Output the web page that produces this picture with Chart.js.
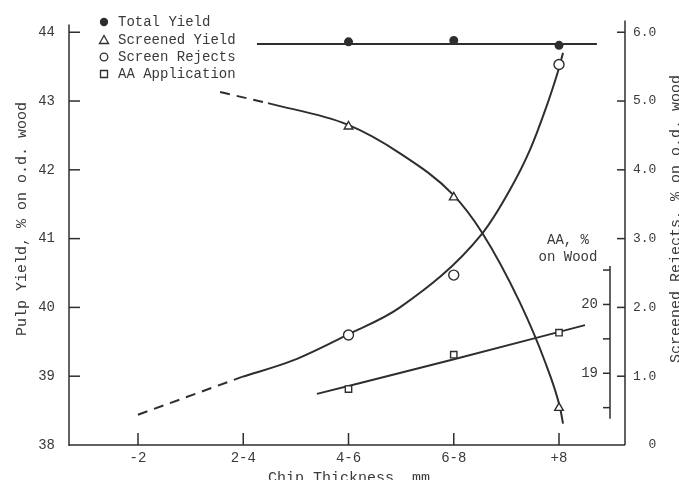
<!DOCTYPE html>
<html>
<head>
<meta charset="utf-8">
<script src="https://cdn.jsdelivr.net/npm/chart.js@4/dist/chart.umd.min.js"></script>
<style>
  html, body { margin: 0; padding: 0; background: #ffffff; }
  #wrap { width: 679px; height: 480px; position: relative; }
</style>
</head>
<body>
<div id="wrap"><canvas id="c"></canvas></div>
<script>
// ---------- data ----------
const categories = ['-2', '2-4', '4-6', '6-8', '+8'];   // chip thickness, mm (x positions 0..4)
const markerX = [2, 3, 4];                             // categories where symbols are plotted

const totalYield    = [43.86, 43.88, 43.81];   // Pulp yield, % (left axis)
const screenedYield = [42.63, 41.60, 38.54];   // Pulp yield, % (left axis)
const screenRejects = [1.60, 2.47, 5.53];      // Screened rejects, % (right axis)
const aaApplication = [18.77, 19.27, 19.59];   // AA, % on wood (inner axis)

// traced fitted lines (x in category units)
const totalLineX = [1.13, 4.36];
const totalLineY = [43.83, 43.83];

const screenedDashX = [0.78, 1.235];
const screenedDashY = [43.13, 42.97];
const screenedCurveX = [1.235, 1.986, 2.489, 2.993, 3.268, 3.629, 3.867, 4.010, 4.038];
const screenedCurveY = [42.97, 42.66, 42.24, 41.64, 41.09, 40.07, 39.21, 38.54, 38.31];

const rejectsDashX = [0, 0.988];
const rejectsDashY = [0.44, 0.99];
const rejectsCurveX = [0.988, 1.473, 1.986, 2.489, 3.268, 3.534, 3.724, 3.867, 3.990, 4.038];
const rejectsCurveY = [0.99, 1.23, 1.60, 2.00, 3.07, 3.71, 4.29, 4.86, 5.43, 5.70];

const aaCurveX = [1.70, 2.993, 4.247];
const aaCurveY = [18.70, 19.20, 19.70];

// axis ticks
const leftTicks = [38, 39, 40, 41, 42, 43, 44];
const rightTicks = [0, 1, 2, 3, 4, 5, 6];
const aaTicks = [18.5, 19, 19.5, 20, 20.5];
const aaLabels = [19, 20];
const aaRange = [18.34, 20.56];

// ---------- styling ----------
const INK = '#2e2e2e';
const TXT = '#3a3a3a';
const FONT = "'Liberation Mono', 'DejaVu Sans Mono', monospace";

const pts = (xs, ys) => xs.map((v, i) => ({x: v, y: ys[i]}));

const lineBase = {
  type: 'line', showLine: true, pointRadius: 0, borderColor: INK, borderWidth: 2,
  cubicInterpolationMode: 'monotone', fill: false
};
const markBase = {
  type: 'line', showLine: false, borderColor: INK, pointBorderColor: INK,
  pointBorderWidth: 1.4, pointBackgroundColor: '#ffffff'
};

const datasets = [
  Object.assign({}, markBase, {label: 'Total Yield', data: pts(markerX, totalYield), yAxisID: 'y',
    pointStyle: 'circle', pointRadius: 3.8, pointBackgroundColor: INK, legend: true}),
  Object.assign({}, markBase, {label: 'Screened Yield', data: pts(markerX, screenedYield), yAxisID: 'y',
    pointStyle: 'triangle', pointRadius: 5, legend: true}),
  Object.assign({}, markBase, {label: 'Screen Rejects', data: pts(markerX, screenRejects), yAxisID: 'y2',
    pointStyle: 'circle', pointRadius: 5, legend: true}),
  Object.assign({}, markBase, {label: 'AA Application', data: pts(markerX, aaApplication), yAxisID: 'yAA',
    pointStyle: 'rect', pointRadius: 4.5, legend: true}),
  Object.assign({}, lineBase, {label: 'Total Yield line', data: pts(totalLineX, totalLineY), yAxisID: 'y'}),
  Object.assign({}, lineBase, {label: 'Screened Yield dashed', data: pts(screenedDashX, screenedDashY), yAxisID: 'y', borderDash: [10, 7]}),
  Object.assign({}, lineBase, {label: 'Screened Yield curve', data: pts(screenedCurveX, screenedCurveY), yAxisID: 'y'}),
  Object.assign({}, lineBase, {label: 'Screen Rejects dashed', data: pts(rejectsDashX, rejectsDashY), yAxisID: 'y2', borderDash: [10, 7]}),
  Object.assign({}, lineBase, {label: 'Screen Rejects curve', data: pts(rejectsCurveX, rejectsCurveY), yAxisID: 'y2'}),
  Object.assign({}, lineBase, {label: 'AA Application line', data: pts(aaCurveX, aaCurveY), yAxisID: 'yAA'})
];

function seg(ctx, x1, y1, x2, y2) { ctx.beginPath(); ctx.moveTo(x1, y1); ctx.lineTo(x2, y2); ctx.stroke(); }

const decor = {
  id: 'decor',
  afterDraw(chart) {
    const {ctx, chartArea: ca, scales} = chart;
    const xs = scales.x, yl = scales.y, yr = scales.y2, ya = scales.yAA;
    ctx.save();
    ctx.strokeStyle = INK; ctx.lineWidth = 1.5; ctx.lineCap = 'butt';
    // left axis + inward ticks
    seg(ctx, ca.left, ca.top + 2, ca.left, ca.bottom + 1);
    leftTicks.slice(1).forEach(v => { const p = yl.getPixelForValue(v); seg(ctx, ca.left, p, ca.left + 11, p); });
    // right axis + inward ticks
    seg(ctx, ca.right, ca.top - 2, ca.right, ca.bottom);
    rightTicks.slice(1).forEach(v => { const p = yr.getPixelForValue(v); seg(ctx, ca.right - 8, p, ca.right, p); });
    // bottom axis + upward ticks
    seg(ctx, ca.left, ca.bottom, ca.right, ca.bottom);
    categories.forEach((c, i) => { const p = xs.getPixelForValue(i); seg(ctx, p, ca.bottom, p, ca.bottom - 12); });
    // inner AA axis
    const aaX = ca.right - 15;
    seg(ctx, aaX, ya.getPixelForValue(aaRange[1]), aaX, ya.getPixelForValue(aaRange[0]));
    aaTicks.forEach(v => { const p = ya.getPixelForValue(v); seg(ctx, aaX - 7, p, aaX, p); });
    ctx.fillStyle = TXT;
    ctx.font = '14px ' + FONT;
    ctx.textAlign = 'right'; ctx.textBaseline = 'middle';
    aaLabels.forEach(v => ctx.fillText(String(v), aaX - 12, ya.getPixelForValue(v)));
    ctx.textAlign = 'center';
    ctx.fillText('AA, %', aaX - 42, 240);
    ctx.fillText('on Wood', aaX - 42, 257);

    // axis titles
    ctx.font = '15px ' + FONT;
    ctx.save(); ctx.translate(22, 219); ctx.rotate(-Math.PI / 2);
    ctx.fillText('Pulp Yield, % on o.d. wood', 0, 0); ctx.restore();
    ctx.save(); ctx.translate(676, 219); ctx.rotate(-Math.PI / 2);
    ctx.fillText('Screened Rejects, % on o.d. wood', 0, 0); ctx.restore();
    ctx.fillText('Chip Thickness, mm', (ca.left + ca.right) / 2 + 2, 478);

    // legend
    ctx.font = '14px ' + FONT;
    ctx.textAlign = 'left';
    const rows = [22, 40, 57, 74];
    chart.data.datasets.filter(d => d.legend).forEach((d, i) => {
      const cy = rows[i], cx = 104;
      ctx.lineWidth = 1.3; ctx.strokeStyle = INK;
      ctx.fillStyle = d.pointBackgroundColor;
      ctx.beginPath();
      if (d.pointStyle === 'circle') {
        ctx.arc(cx, cy, d.pointBackgroundColor === INK ? 3.5 : 3.8, 0, Math.PI * 2);
      } else if (d.pointStyle === 'triangle') {
        ctx.moveTo(cx, cy - 4.5); ctx.lineTo(cx + 4.5, cy + 3.5); ctx.lineTo(cx - 4.5, cy + 3.5); ctx.closePath();
      } else {
        ctx.rect(cx - 3.5, cy - 3.5, 7, 7);
      }
      ctx.fill(); ctx.stroke();
      ctx.fillStyle = TXT;
      ctx.fillText(d.label, 118, cy);
    });
    ctx.restore();
  }
};

const tickFont = {family: FONT, size: 14};

new Chart(document.getElementById('c'), {
  data: {datasets},
  options: {
    responsive: true, maintainAspectRatio: false, animation: false,
    layout: {padding: {top: 15, left: 0, right: 0, bottom: 0}},
    plugins: {legend: {display: false}, tooltip: {enabled: false}, title: {display: false}},
    scales: {
      x: {
        type: 'linear', position: 'bottom', min: -0.6556, max: 4.627,
        afterFit: s => { s.height = 35; },
        afterBuildTicks: s => { s.ticks = categories.map((c, i) => ({value: i})); },
        grid: {display: false, drawTicks: false}, border: {display: false},
        ticks: {font: tickFont, color: TXT, padding: 5, autoSkip: false, maxRotation: 0,
          callback: v => categories[v] !== undefined ? categories[v] : ''}
      },
      y: {
        type: 'linear', position: 'left', min: 38, max: 44.143,
        afterFit: s => { s.width = 69; },
        afterBuildTicks: s => { s.ticks = leftTicks.map(v => ({value: v})); },
        grid: {display: false, drawTicks: false}, border: {display: false},
        ticks: {font: tickFont, color: TXT, padding: 14}
      },
      y2: {
        type: 'linear', position: 'right', min: 0, max: 6.143,
        afterFit: s => { s.width = 54; },
        afterBuildTicks: s => { s.ticks = rightTicks.map(v => ({value: v})); },
        grid: {display: false, drawTicks: false}, border: {display: false},
        ticks: {font: {family: FONT, size: 13}, color: TXT, padding: 8, crossAlign: 'near',
          callback: v => v === 0 ? '  0' : v.toFixed(1)}
      },
      yAA: {
        type: 'linear', position: 'right', display: false, min: 17.957, max: 24.1
      }
    }
  },
  plugins: [decor]
});
</script>
</body>
</html>
